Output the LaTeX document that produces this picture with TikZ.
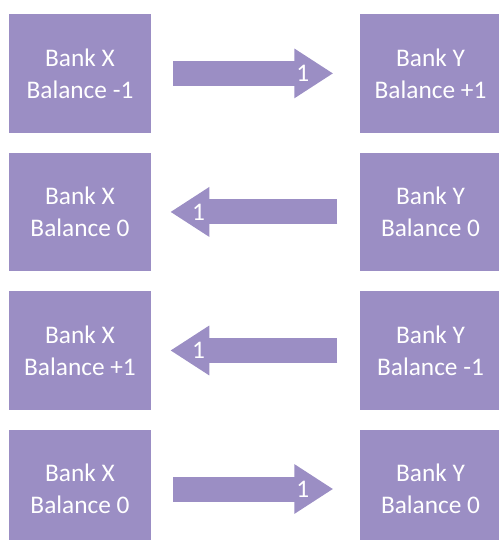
\documentclass[tikz,border=0pt]{standalone}
\usepackage{fontspec}
\setmainfont{Carlito}
\usetikzlibrary{positioning,arrows.meta}
\definecolor{BankPurple}{RGB}{155,142,196}
\tikzset{
  bankbox/.style={fill=BankPurple,draw=none,minimum width=106.5pt,
    minimum height=88.9pt,align=center,text=white,
    font=\fontsize{19pt}{24pt}\selectfont},
  flow/.style={-{Triangle[length=29.25pt,width=35.25pt]},
    line width=18.75pt,draw=BankPurple},
  numlabel/.style={text=white,font=\fontsize{19pt}{24pt}\selectfont,inner sep=0pt}
}

\begin{document}
\begin{tikzpicture}[x=0.75pt,y=-0.75pt,node distance=14.6pt and 156pt]
  \useasboundingbox (0,0) rectangle (499,540);
  % left column (bank X) and right column (bank Y)
  \node[bankbox] at (80,73.4) (x1) {Bank X\\Balance -1};
  \node[bankbox,right=of x1] (y1) {Bank Y\\Balance +1};
  \node[bankbox,below=of x1] (x2) {Bank X\\Balance 0};
  \node[bankbox,right=of x2] (y2) {Bank Y\\Balance 0};
  \node[bankbox,below=of x2] (x3) {Bank X\\Balance +1};
  \node[bankbox,right=of x3] (y3) {Bank Y\\Balance -1};
  \node[bankbox,below=of x3] (x4) {Bank X\\Balance 0};
  \node[bankbox,right=of x4] (y4) {Bank Y\\Balance 0};
  % transfers
  \draw[flow] ([xshift=16.5pt]x1.east) -- node[numlabel,pos=0.81] {1} ([xshift=-19.5pt]y1.west);
  \draw[flow] ([xshift=-16.5pt]y2.west) -- node[numlabel,pos=0.83] {1} ([xshift=14.25pt]x2.east);
  \draw[flow] ([xshift=-16.5pt]y3.west) -- node[numlabel,pos=0.83] {1} ([xshift=14.25pt]x3.east);
  \draw[flow] ([xshift=16.5pt]x4.east) -- node[numlabel,pos=0.81] {1} ([xshift=-19.5pt]y4.west);
\end{tikzpicture}
\end{document}
